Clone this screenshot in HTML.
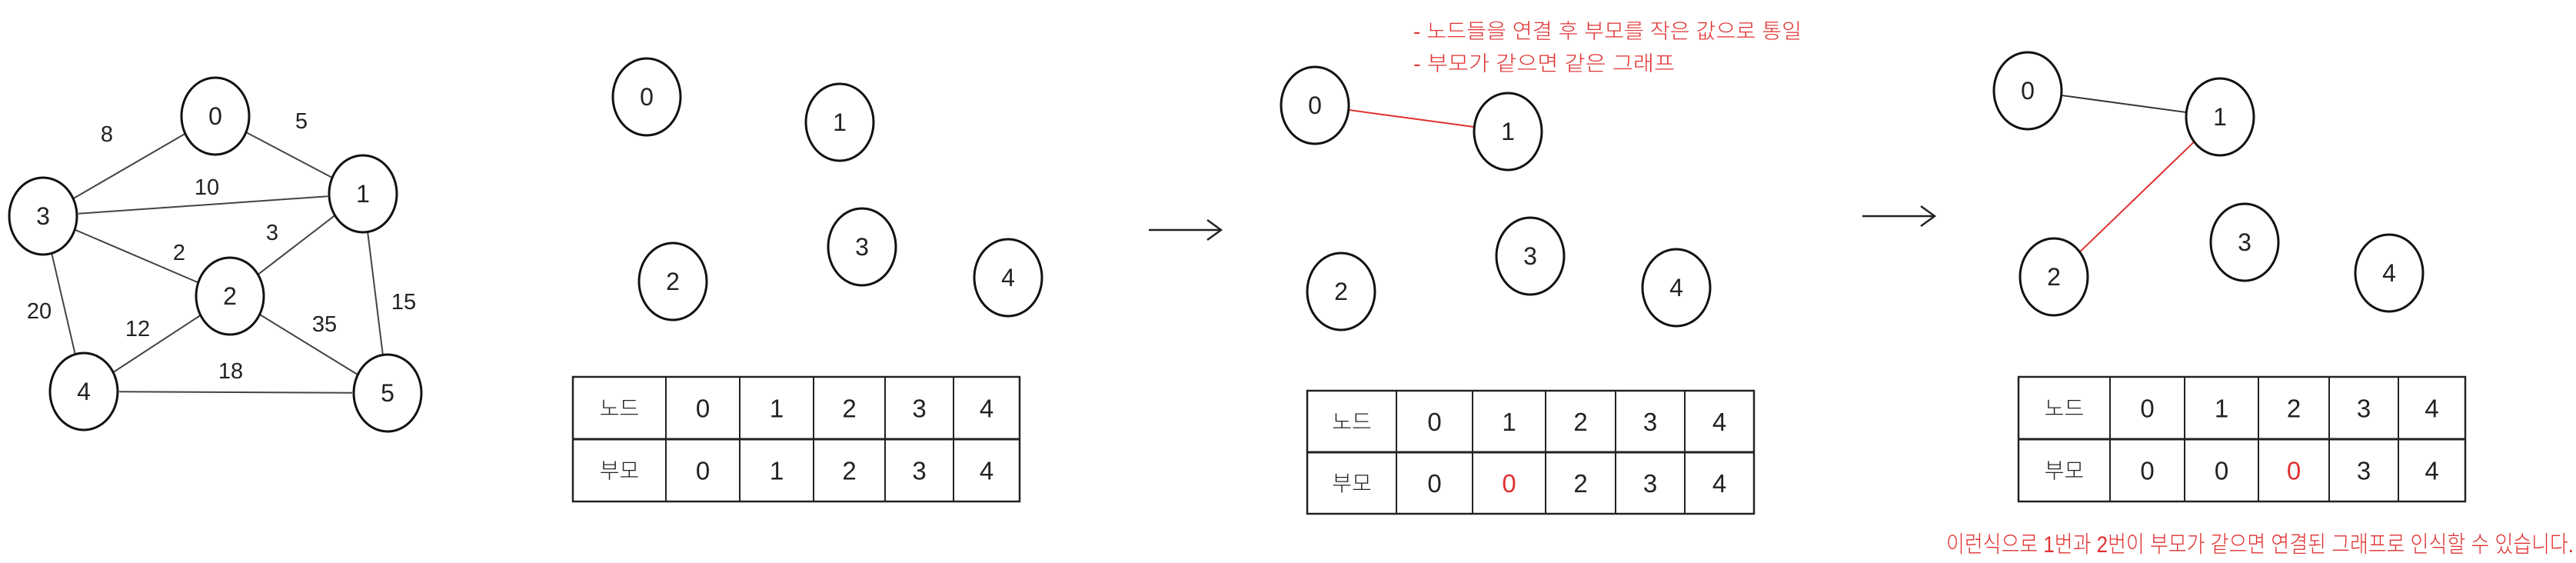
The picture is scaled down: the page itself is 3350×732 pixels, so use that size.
<!DOCTYPE html>
<html><head><meta charset="utf-8"><style>
html,body{margin:0;padding:0;background:#fff;}
svg{display:block;}
text{font-family:"Liberation Sans","Noto Sans CJK KR",sans-serif;font-weight:300;}
</style></head><body>
<svg id="root" width="3350" height="732" viewBox="0 0 3350 732" xmlns="http://www.w3.org/2000/svg">
<g id="g1"></g>
<g id="g2"></g>
<g id="g3"></g>
<g id="g4"></g>
<g id="tables"></g>
<g stroke="#222" stroke-width="2.5" fill="none">
<line x1="1494" y1="299" x2="1588" y2="299"/><polyline points="1570,286 1588,299 1570,312"/></g>
<g stroke="#222" stroke-width="2.5" fill="none">
<line x1="2422" y1="281" x2="2516" y2="281"/><polyline points="2498,268 2516,281 2498,294"/></g>
<text x="1838" y="50" font-size="27" fill="#e03030" textLength="505" lengthAdjust="spacingAndGlyphs">- 노드들을 연결 후 부모를 작은 값으로 통일</text>
<text x="1838" y="92" font-size="27" fill="#e03030" textLength="340" lengthAdjust="spacingAndGlyphs">- 부모가 같으면 같은 그래프</text>
<text x="2531" y="718" font-size="30" fill="#e03030" textLength="816" lengthAdjust="spacingAndGlyphs">이런식으로 1번과 2번이 부모가 같으면 연결된 그래프로 인식할 수 있습니다.</text>
</svg>
<script>
const NS='http://www.w3.org/2000/svg';
const graphNodes=['0','1','2','3','4','5'];
const graphPos=[[280,151],[472,252],[299,385],[56,281],[109,509],[504,511]];
const graphEdges=[[3,0],[0,1],[3,1],[3,2],[2,1],[3,4],[2,4],[2,5],[1,5],[4,5]];
const graphWeights=['8','5','10','2','3','20','12','35','15','18'];
const weightPos=[[139,174],[392,157],[269,243],[233,328],[354,302],[51,404],[179,427],[422,421],[525,392],[300,482]];
const p2=[[841,126],[1092,159],[875,366],[1121,321],[1311,361]];
const p3=[[1710,137],[1961,171],[1744,379],[1990,333],[2180,374]];
const p4=[[2637,118],[2887,152],[2671,360],[2919,315],[3107,355]];
const tableNodes=['0','1','2','3','4'];
const parents1=['0','1','2','3','4'];
const parents2=['0','0','2','3','4'];
const parents3=['0','0','0','3','4'];
function mk(tag,attrs,parent){const e=document.createElementNS(NS,tag);for(const k in attrs)e.setAttribute(k,attrs[k]);parent.appendChild(e);return e;}
function edge(g,a,b,color,rx){
  const dx=b[0]-a[0],dy=b[1]-a[1],L=Math.hypot(dx,dy),ux=dx/L,uy=dy/L;
  const l=mk('line',{x1:a[0]+ux*rx,y1:a[1]+uy*rx,x2:b[0]-ux*rx,y2:b[1]-uy*rx,stroke:color,'stroke-width':2},g);
  
  
}
function node(g,p,label){
  const c=mk('ellipse',{cx:p[0],cy:p[1],rx:44,ry:50,fill:'#fff',stroke:'#111','stroke-width':3},g);
  
  
  const t=mk('text',{x:p[0],y:p[1]+11,'font-size':32,'text-anchor':'middle',fill:'#222'},g);
  t.textContent=label;
  
  
}
const g1=document.getElementById('g1');
graphEdges.forEach((e,i)=>edge(g1,graphPos[e[0]],graphPos[e[1]],'#444',46));
graphWeights.forEach((w,i)=>{const t=mk('text',{x:weightPos[i][0],y:weightPos[i][1]+10,'font-size':29,'text-anchor':'middle',fill:'#222'},g1);t.textContent=w;
  
  });
graphNodes.forEach((n,i)=>node(g1,graphPos[i],n));
const g2=document.getElementById('g2');tableNodes.forEach((n,i)=>node(g2,p2[i],n));
const g3=document.getElementById('g3');edge(g3,p3[0],p3[1],'#e03030',45);tableNodes.forEach((n,i)=>node(g3,p3[i],n));
const g4=document.getElementById('g4');edge(g4,p4[0],p4[1],'#333',45);edge(g4,p4[1],p4[2],'#e03030',45);tableNodes.forEach((n,i)=>node(g4,p4[i],n));
const tg=document.getElementById('tables');
function table(x0,x1,y0,y1,cols,parents,redIdx){
  const ym=(y0+y1)/2;
  const r=mk('rect',{x:x0,y:y0,width:x1-x0,height:y1-y0,fill:'none',stroke:'#222','stroke-width':2.5},tg);
  
  
  mk('line',{x1:x0,y1:ym,x2:x1,y2:ym,stroke:'#222','stroke-width':3},tg);
  const bounds=[x0].concat(cols).concat([x1]);
  cols.forEach(c=>mk('line',{x1:c,y1:y0,x2:c,y2:y1,stroke:'#222','stroke-width':2},tg));
  const h1=mk('text',{x:(bounds[0]+bounds[1])/2,y:y0+(ym-y0)/2+10,'font-size':28,'text-anchor':'middle',fill:'#222'},tg);h1.textContent='노드';
  
  
  const h2=mk('text',{x:(bounds[0]+bounds[1])/2,y:ym+(y1-ym)/2+10,'font-size':28,'text-anchor':'middle',fill:'#222'},tg);h2.textContent='부모';
  
  
  tableNodes.forEach((n,i)=>{
    const cx=(bounds[i+1]+bounds[i+2])/2;
    const a=mk('text',{x:cx,y:y0+(ym-y0)/2+12,'font-size':33,'text-anchor':'middle',fill:'#222'},tg);a.textContent=n;
    
    
    const b=mk('text',{x:cx,y:ym+(y1-ym)/2+12,'font-size':33,'text-anchor':'middle',fill:i===redIdx?'#e03030':'#222'},tg);b.textContent=parents[i];
    
    
  });
}
table(745,1326,490,652,[866,962,1058,1151,1240],parents1,-1);
table(1700,2281,508,668,[1816,1915,2010,2101,2191],parents2,1);
table(2625,3206,490,652,[2744,2841,2937,3029,3119],parents3,2);
</script>
</body></html>
